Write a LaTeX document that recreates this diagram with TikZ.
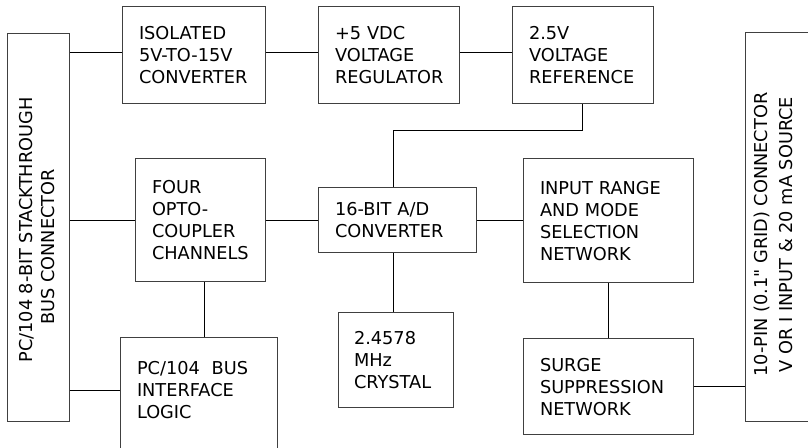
\documentclass[tikz,border=0pt]{standalone}
\usepackage{fontspec}
\setmainfont{DejaVu Sans}[Ligatures=TeXOff]
\usetikzlibrary{positioning}

\begin{document}
\begin{tikzpicture}[x=0.75pt, y=-0.75pt, line width=0.75pt,
    blk/.style={draw=black!75, align=left, inner xsep=12.75pt, inner ysep=0pt,
      font=\fontsize{13.3}{16.5}\selectfont},
    leitung/.style={draw=black}]
    \useasboundingbox (0,0) rectangle (808,448);
    \clip (0,0) rectangle (808,448);
    % Steckverbinder links
    \node[draw=black!75, minimum width=46.5pt, minimum height=291pt, inner sep=0pt] (lconn) at (38,228)
      [label={[rotate=90, align=center, xshift=-1.5pt, yshift=1pt, font=\fontsize{13.3}{16.5}\selectfont]center:PC/104 8-BIT STACKTHROUGH\\BUS CONNECTOR\hspace*{1.9em}}] {};
    % Steckverbinder rechts
    \node[draw=black!75, minimum width=52.5pt, minimum height=291.75pt, inner sep=0pt] (rconn) at (780,227.5)
      [label={[rotate=90, align=center, xshift=-5.25pt, yshift=5pt, font=\fontsize{13.3}{19}\selectfont]center:10-PIN (0.1" GRID) CONNECTOR\\V OR I INPUT \& 20 mA SOURCE}] {};
    % Obere Reihe
    \node[blk, text width=81.75pt, minimum height=72.75pt] (iso) at (193.5,55.5) {ISOLATED\\5V-TO-15V\\CONVERTER};
    \node[blk, text width=80.25pt, minimum height=72.75pt] (reg) at (388.5,55.5) {+5 VDC\\VOLTAGE\\REGULATOR};
    \node[blk, text width=80.25pt, minimum height=72.75pt] (ref) at (582.5,55.5) {2.5V\\VOLTAGE\\REFERENCE};
    % Mittlere Reihe
    \node[blk, text width=72pt, minimum height=92.25pt] (opto) at (200,220.5) {FOUR\\OPTO-\\COUPLER\\CHANNELS};
    \node[blk, text width=93pt, minimum height=48.75pt] (adc) at (397,220.5) {16-BIT A/D\\CONVERTER};
    \node[blk, text width=102pt, minimum height=93pt] (range) at (608,221) {INPUT RANGE\\AND MODE\\SELECTION\\NETWORK};
    % Untere Reihe
    \node[blk, text width=92.25pt, minimum height=111pt] (bus) at (198.5,412) {PC/104~ BUS\\INTERFACE\\LOGIC\\~\\~};
    \node[blk, text width=62.25pt, inner xsep=12pt, minimum height=71.25pt] (xtal) at (395.5,360.5) {2.4578\\MHz\\CRYSTAL};
    \node[blk, text width=102pt, minimum height=72pt] (surge) at (608,387) {SURGE\\SUPPRESSION\\NETWORK};
    % Versorgung
    \draw[leitung] ([yshift=2.6pt]iso.west) -- ([yshift=2.6pt]iso.west -| lconn.east);
    \draw[leitung] ([yshift=2.6pt]iso.east) -- ([yshift=2.6pt]iso.east -| reg.west);
    \draw[leitung] ([yshift=2.6pt]reg.east) -- ([yshift=2.6pt]reg.east -| ref.west);
    % Referenz zum Wandler
    \draw[leitung] (ref.south) -- ++(0,26) -| ([xshift=-3pt]adc.north);
    % Signalpfad
    \draw[leitung] (opto.west) -- (opto.west -| lconn.east);
    \draw[leitung] (opto.east) -- (opto.east -| adc.west);
    \draw[leitung] (adc.east) -- (adc.east -| range.west);
    \draw[leitung] ([xshift=-3pt]adc.south) -- ([xshift=-3pt]adc.south |- xtal.north);
    \draw[leitung] ([xshift=3pt]opto.south) -- ([xshift=3pt]opto.south |- bus.north);
    \draw[leitung] ([yshift=15.75pt]bus.west) -- ([yshift=15.75pt]bus.west -| lconn.east);
    \draw[leitung] (range.south) -- (surge.north);
    \draw[leitung] (surge.east) -- (surge.east -| rconn.west);
\end{tikzpicture}
\end{document}
